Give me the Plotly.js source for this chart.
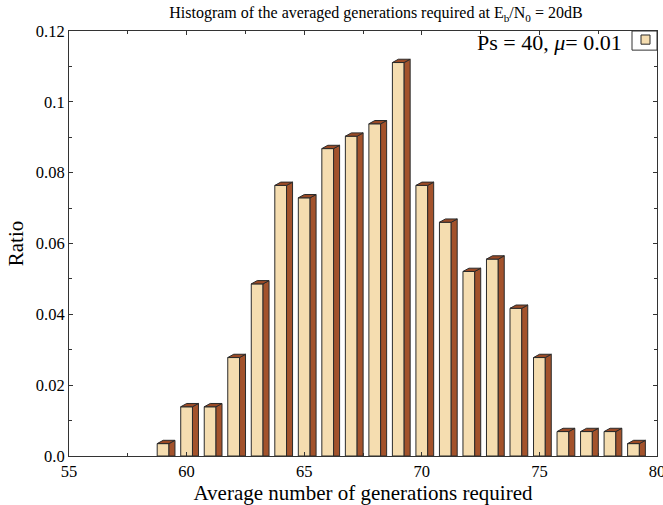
<!DOCTYPE html>
<html>
<head>
<meta charset="utf-8">
<script src="https://cdn.plot.ly/plotly-3.0.1.min.js"></script>
<style>html,body{margin:0;padding:0;background:#fff;}#chart{width:663px;height:505px;}</style>
</head>
<body>
<div id="chart"></div>
<script>
// Data
const generations = [59, 60, 61, 62, 63, 64, 65, 66, 67, 68, 69, 70, 71, 72, 73, 74, 75, 76, 77, 78, 79];
const ratios = [0.0035, 0.0139, 0.0139, 0.0278, 0.0486, 0.0764, 0.0729, 0.0868, 0.0903, 0.0938, 0.1111,
                0.0764, 0.066, 0.0521, 0.0556, 0.0417, 0.0278, 0.0069, 0.0069, 0.0069, 0.0035];
const seriesName = "Ps = 40, <i>μ</i>= 0.01";
const yTickVals = [0, 0.02, 0.04, 0.06, 0.08, 0.1, 0.12];
const yTickText = ["0.0", "0.02", "0.04", "0.06", "0.08", "0.1", "0.12"];
const xTickVals = [55, 60, 65, 70, 75, 80];

// 3D look parameters (data units)
const barW = 0.5, depthX = 0.255, depthY = 0.00093;

const sideX = [], sideY = [], topX = [], topY = [];
generations.forEach((g, i) => {
  const v = ratios[i];
  const xr = g + barW / 2, xl = g - barW / 2;
  sideX.push(xr, xr, xr + depthX, xr + depthX, xr, null);
  sideY.push(0, v, v + depthY, 0, 0, null);
  topX.push(xl, xr, xr + depthX, xl + depthX, xl, null);
  topY.push(v, v, v + depthY, v + depthY, v, null);
});

const edge = '#2b2b2b';
const traces = [
  {type: 'bar', x: generations, y: ratios, width: barW, name: seriesName,
   marker: {color: '#F5DDB0', line: {color: edge, width: 1}}, showlegend: false},
  {type: 'scatter', mode: 'lines', x: sideX, y: sideY, fill: 'toself', fillcolor: '#A3522B',
   line: {color: edge, width: 1}, showlegend: false, hoverinfo: 'skip'},
  {type: 'scatter', mode: 'lines', x: topX, y: topY, fill: 'toself', fillcolor: '#9A4A26',
   line: {color: edge, width: 1}, showlegend: false, hoverinfo: 'skip'}
];

const font = 'Liberation Serif, Times New Roman, serif';
const layout = {
  width: 663, height: 505,
  margin: {l: 69, r: 6, t: 31, b: 49},
  paper_bgcolor: '#fff', plot_bgcolor: '#fff',
  font: {family: font, color: '#000'},
  title: {text: 'Histogram of the averaged generations required at E<sub>b</sub>/N<sub>0</sub> = 20dB',
          font: {size: 16, family: font, color: '#000'}, x: 0.567, xanchor: 'center', y: 0.975, yanchor: 'middle'},
  xaxis: {range: [55, 80], tickvals: xTickVals, ticks: 'inside', ticklen: 4, tickcolor: '#333',
          ticklabeloverflow: 'allow',
          showgrid: false, zeroline: false, showline: true, linecolor: '#333', linewidth: 1, mirror: 'ticks',
          minor: {dtick: 2.5, ticks: 'inside', ticklen: 3, tickcolor: '#333', showgrid: false},
          tickfont: {size: 16.5, family: font, color: '#000'},
          title: {text: 'Average number of generations required', font: {size: 21, family: font, color: '#000'}, standoff: 4}},
  yaxis: {range: [0, 0.12], tickvals: yTickVals, ticktext: yTickText, ticks: 'inside', ticklen: 4, tickcolor: '#333',
          showgrid: false, zeroline: false, showline: true, linecolor: '#333', linewidth: 1, mirror: 'ticks',
          minor: {dtick: 0.01, ticks: 'inside', ticklen: 3, tickcolor: '#333', showgrid: false},
          tickfont: {size: 16.5, family: font, color: '#000'},
          title: {text: 'Ratio', font: {size: 21, family: font, color: '#000'}, standoff: 6}},
  showlegend: false,
  annotations: [{text: seriesName, xref: 'paper', yref: 'paper', x: 0.944, y: 0.972,
                 xanchor: 'right', yanchor: 'middle', showarrow: false,
                 font: {size: 22, family: font, color: '#000'}}],
  shapes: [
    {type: 'rect', xref: 'paper', yref: 'paper', x0: 0.9575, x1: 1.0, y0: 0.955, y1: 1.0,
     line: {color: '#333', width: 1}, fillcolor: '#fff'},
    {type: 'rect', xref: 'paper', yref: 'paper', x0: 0.9728, x1: 0.9881, y0: 0.969, y1: 0.9906,
     line: {color: edge, width: 1}, fillcolor: '#F5DDB0'}
  ]
};

Plotly.newPlot('chart', traces, layout, {displayModeBar: false, staticPlot: true});
</script>
</body>
</html>
